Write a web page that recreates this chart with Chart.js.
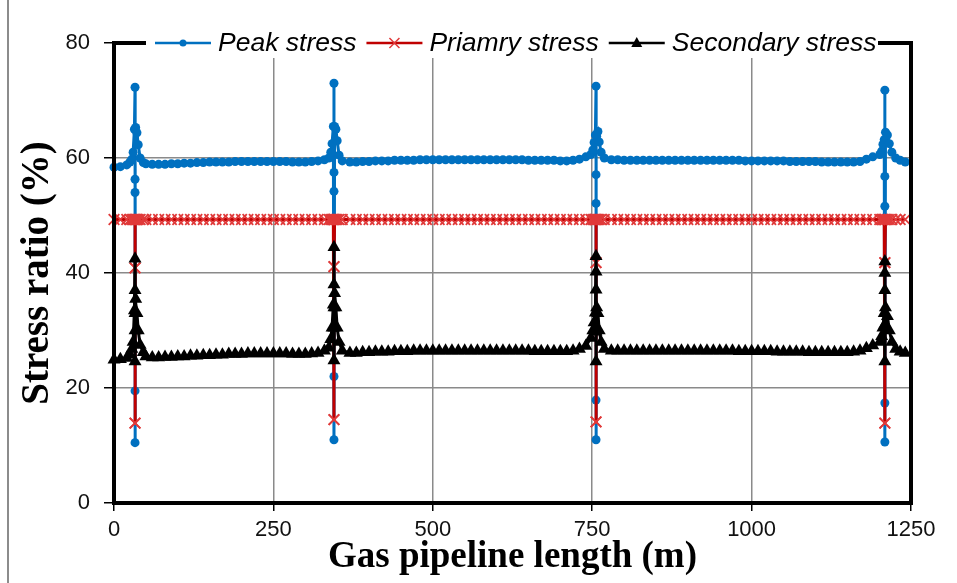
<!DOCTYPE html>
<html>
<head>
<meta charset="utf-8">
<script src="https://cdn.jsdelivr.net/npm/chart.js@4.4.1/dist/chart.umd.min.js"></script>
<style>
  html, body { margin: 0; padding: 0; background: #fff; }
  canvas { display: block; }
</style>
</head>
<body>
<canvas id="stressChart" width="957" height="583"></canvas>
<script>
// pipeline position (m), dense around the four fittings
const lengthM = [
  0, 10, 20,
  25, 28, 30, 32, 33, 33, 33, 33, 33, 34, 36, 38, 41, 46,
  50, 60, 70, 80, 90, 100, 110, 120, 130, 140, 150, 160, 170, 180, 190, 200, 210, 220, 230, 240,
  250, 260, 270, 280, 290, 300, 310, 320, 330,
  337, 340, 342, 344, 345, 345, 345, 345, 345, 346, 348, 350, 353, 358,
  370, 380, 390, 400, 410, 420, 430, 440, 450, 460, 470, 480, 490, 500, 510, 520, 530, 540, 550,
  560, 570, 580, 590, 600, 610, 620, 630, 640, 650, 660, 670, 680, 690, 700, 710, 720, 730, 740,
  748, 751, 753, 755, 756, 756, 756, 756, 756, 757, 759, 761, 764, 769,
  780, 790, 800, 810, 820, 830, 840, 850, 860, 870, 880, 890, 900, 910, 920, 930, 940, 950, 960,
  970, 980, 990, 1000, 1010, 1020, 1030, 1040, 1050, 1060, 1070, 1080, 1090, 1100, 1110, 1120,
  1130, 1140, 1150, 1160, 1170, 1180, 1190,
  1201, 1204, 1206, 1208, 1209, 1209, 1209, 1209, 1209, 1210, 1213, 1216, 1220, 1226,
  1233, 1241
];

const peakStress = [
  58.4, 58.5, 58.8,
  59.3, 59.8, 61.0, 65.0, 72.3, 56.3, 54.0, 19.5, 10.5, 65.3, 64.4, 62.3, 60.0, 59.2,
  59.0, 58.9, 58.9, 58.9, 59.0, 59.0, 59.1, 59.1, 59.2, 59.2,
  59.3, 59.3, 59.3, 59.3, 59.4, 59.4, 59.4, 59.4, 59.4, 59.4,
  59.4, 59.4, 59.4, 59.3, 59.3, 59.3, 59.4, 59.5, 59.7,
  60.0, 61.0, 62.5, 65.5, 73.0, 57.5, 54.2, 22.0, 11.0, 65.5, 65.0, 63.0, 60.5, 59.5,
  59.3, 59.3, 59.4, 59.4, 59.5, 59.5, 59.5, 59.6, 59.6, 59.6,
  59.6, 59.7, 59.7, 59.7, 59.7, 59.7, 59.7, 59.7, 59.7, 59.7,
  59.7, 59.7, 59.7, 59.7, 59.7, 59.7, 59.7, 59.7, 59.6, 59.6,
  59.6, 59.6, 59.6, 59.5, 59.5, 59.6, 59.8, 60.2,
  60.6, 61.4, 62.7, 64.0, 72.5, 57.1, 52.1, 17.9, 11.0, 63.8, 64.6, 62.8, 61.0, 60.0,
  59.7, 59.7, 59.6, 59.6, 59.6, 59.6, 59.6, 59.6, 59.6, 59.6,
  59.6, 59.6, 59.6, 59.6, 59.6, 59.6, 59.6, 59.6, 59.6, 59.6,
  59.6, 59.5, 59.5, 59.5, 59.5, 59.5, 59.5, 59.5, 59.4, 59.4,
  59.4, 59.4, 59.4, 59.3, 59.3, 59.3, 59.3, 59.3, 59.3, 59.4,
  59.8, 60.2,
  60.6, 61.2, 62.4, 63.2, 71.8, 56.8, 51.6, 17.4, 10.6, 64.5, 64.0, 62.5, 61.0, 60.0,
  59.6, 59.3
];

const primaryStress = [
  49.3, 49.3, 49.3,
  49.3, 49.3, 49.3, 49.3, 49.3, 40.9, 13.9, 13.9, 40.9, 49.3, 49.3, 49.3, 49.3, 49.3,
  49.3, 49.3, 49.3, 49.3, 49.3, 49.3, 49.3, 49.3, 49.3, 49.3,
  49.3, 49.3, 49.3, 49.3, 49.3, 49.3, 49.3, 49.3, 49.3, 49.3,
  49.3, 49.3, 49.3, 49.3, 49.3, 49.3, 49.3, 49.3, 49.3,
  49.3, 49.3, 49.3, 49.3, 49.3, 41.1, 14.5, 14.5, 41.1, 49.3, 49.3, 49.3, 49.3, 49.3,
  49.3, 49.3, 49.3, 49.3, 49.3, 49.3, 49.3, 49.3, 49.3, 49.3,
  49.3, 49.3, 49.3, 49.3, 49.3, 49.3, 49.3, 49.3, 49.3, 49.3,
  49.3, 49.3, 49.3, 49.3, 49.3, 49.3, 49.3, 49.3, 49.3, 49.3,
  49.3, 49.3, 49.3, 49.3, 49.3, 49.3, 49.3, 49.3,
  49.3, 49.3, 49.3, 49.3, 49.3, 41.8, 14.1, 14.1, 41.8, 49.3, 49.3, 49.3, 49.3, 49.3,
  49.3, 49.3, 49.3, 49.3, 49.3, 49.3, 49.3, 49.3, 49.3, 49.3,
  49.3, 49.3, 49.3, 49.3, 49.3, 49.3, 49.3, 49.3, 49.3, 49.3,
  49.3, 49.3, 49.3, 49.3, 49.3, 49.3, 49.3, 49.3, 49.3, 49.3,
  49.3, 49.3, 49.3, 49.3, 49.3, 49.3, 49.3, 49.3, 49.3, 49.3,
  49.3, 49.3,
  49.3, 49.3, 49.3, 49.3, 49.3, 41.8, 13.9, 13.9, 41.8, 49.3, 49.3, 49.3, 49.3, 49.3,
  49.3, 49.3
];

const secondaryStress = [
  24.9, 25.0, 25.2,
  25.8, 26.8, 28.0, 33.5, 42.5, 37.0, 33.0, 30.0, 24.6, 35.5, 33.0, 30.0, 27.5, 26.2,
  25.5, 25.3, 25.3, 25.4, 25.4, 25.5, 25.5, 25.6, 25.6, 25.7,
  25.7, 25.8, 25.8, 25.9, 25.9, 25.9, 26.0, 26.0, 26.0, 26.0,
  26.0, 26.0, 26.0, 25.9, 25.9, 25.9, 26.0, 26.1, 26.5,
  27.0, 28.5, 30.5, 34.5, 44.5, 38.0, 34.0, 30.5, 24.8, 36.5, 34.0, 30.5, 28.0, 26.5,
  26.1, 26.1, 26.2, 26.2, 26.3, 26.3, 26.3, 26.4, 26.4, 26.4,
  26.5, 26.5, 26.5, 26.5, 26.5, 26.5, 26.5, 26.5, 26.5, 26.5,
  26.5, 26.5, 26.5, 26.5, 26.5, 26.5, 26.5, 26.5, 26.5, 26.4,
  26.4, 26.4, 26.4, 26.4, 26.4, 26.5, 26.8, 27.3,
  28.7, 30.0, 31.4, 33.1, 42.9, 40.2, 37.1, 29.8, 24.6, 34.0, 33.0, 30.0, 28.0, 26.8,
  26.5, 26.5, 26.5, 26.5, 26.5, 26.5, 26.5, 26.5, 26.5, 26.5,
  26.5, 26.5, 26.5, 26.5, 26.5, 26.5, 26.5, 26.5, 26.5, 26.5,
  26.4, 26.4, 26.4, 26.4, 26.4, 26.4, 26.3, 26.3, 26.3, 26.3,
  26.3, 26.2, 26.2, 26.2, 26.2, 26.2, 26.2, 26.2, 26.3, 26.5,
  26.9, 27.4,
  28.0, 29.0, 30.5, 33.0, 42.0, 40.0, 37.0, 31.0, 24.6, 34.0, 32.5, 30.0, 28.0, 26.8,
  26.3, 26.1
];

const seriesNames = ["Peak stress", "Priamry stress", "Secondary stress"];
const yTicks = [0, 20, 40, 60, 80];
const xTicks = [0, 250, 500, 750, 1000, 1250];

function to_points(values) {
    const pts = [];
    for (let i = 0; i < lengthM.length && i < values.length; i++) {
        pts.push({x: lengthM[i], y: values[i]});
    }
    return pts;
}

// little marker drawer for the legend
function draw_marker(ctx, style, x, y, color) {
    ctx.save();
    ctx.fillStyle = color;
    ctx.strokeStyle = color;
    if (style === "circle") {
        ctx.beginPath();
        ctx.arc(x, y, 3.5, 0, Math.PI * 2);
        ctx.fill();
    } else if (style === "cross") {
        ctx.lineWidth = 1.5;
        ctx.beginPath();
        ctx.moveTo(x - 5, y - 5); ctx.lineTo(x + 5, y + 5);
        ctx.moveTo(x + 5, y - 5); ctx.lineTo(x - 5, y + 5);
        ctx.stroke();
    } else {
        ctx.beginPath();
        ctx.moveTo(x, y - 6);
        ctx.lineTo(x + 5.5, y + 4);
        ctx.lineTo(x - 5.5, y + 4);
        ctx.closePath();
        ctx.fill();
    }
    ctx.restore();
}

const frameAndLegend = {
    id: "frameAndLegend",
    beforeDraw(chart) {
        const ctx = chart.ctx;
        ctx.save();
        ctx.fillStyle = "#fff";
        ctx.fillRect(0, 0, chart.width, chart.height);
        ctx.strokeStyle = "#8c8c8c";
        ctx.lineWidth = 2;
        ctx.beginPath();
        ctx.moveTo(8, 0);
        ctx.lineTo(8, chart.height);
        ctx.stroke();
        ctx.restore();
    },
    afterDraw(chart) {
        const ctx = chart.ctx;
        const a = chart.chartArea;
        ctx.save();
        // plot box
        ctx.strokeStyle = "#000";
        ctx.lineWidth = 4;
        ctx.strokeRect(a.left, a.top, a.right - a.left, a.bottom - a.top);

        // legend sits on the top edge
        const legY = a.top;
        ctx.fillStyle = "#fff";
        ctx.fillRect(146, legY - 15, 732, 30);

        const styles = ["circle", "cross", "triangle"];
        const colors = ["#0070C0", "#C00000", "#000000"];
        const markColors = ["#0070C0", "#E03a3a", "#000000"];
        ctx.font = "italic 26.5px 'Liberation Sans', Arial, sans-serif";
        ctx.textBaseline = "middle";
        let x = 155;
        for (let i = 0; i < seriesNames.length; i++) {
            ctx.strokeStyle = colors[i];
            ctx.lineWidth = 2.5;
            ctx.beginPath();
            ctx.moveTo(x, legY);
            ctx.lineTo(x + 56, legY);
            ctx.stroke();
            draw_marker(ctx, styles[i], x + 28, legY, markColors[i]);
            ctx.fillStyle = "#000";
            ctx.fillText(seriesNames[i], x + 63, legY + 1);
            x += 63 + ctx.measureText(seriesNames[i]).width + 10;
        }
        ctx.restore();
    }
};

const ctx = document.getElementById("stressChart").getContext("2d");
new Chart(ctx, {
    type: "line",
    data: {
        datasets: [
            {
                label: seriesNames[0],
                data: to_points(peakStress),
                borderColor: "#0070C0",
                backgroundColor: "#0070C0",
                borderWidth: 3,
                pointStyle: "circle",
                pointRadius: 4.5,
                pointBorderWidth: 0,
                tension: 0,
                clip: false,
                order: 2
            },
            {
                label: seriesNames[1],
                data: to_points(primaryStress),
                borderColor: "#C00000",
                backgroundColor: "#C00000",
                pointBorderColor: "#E03a3a",
                borderWidth: 3,
                pointStyle: "crossRot",
                pointRadius: 7.5,
                pointBorderWidth: 1.8,
                tension: 0,
                clip: false,
                order: 1
            },
            {
                label: seriesNames[2],
                data: to_points(secondaryStress),
                borderColor: "#000000",
                backgroundColor: "#000000",
                borderWidth: 3,
                pointStyle: "triangle",
                pointRadius: 7.5,
                pointBorderWidth: 0,
                tension: 0,
                clip: false,
                order: 0
            }
        ]
    },
    options: {
        responsive: false,
        animation: false,
        layout: {
            padding: {left: 0, top: 43, right: 46, bottom: 0}
        },
        plugins: {
            legend: {display: false},
            tooltip: {enabled: false}
        },
        scales: {
            x: {
                type: "linear",
                min: xTicks[0],
                max: xTicks[xTicks.length - 1],
                afterBuildTicks: scale => {
                    scale.ticks = xTicks.map(v => ({value: v}));
                },
                afterFit: scale => { scale.height = 80; },
                border: {display: false},
                grid: {
                    color: "#8a8a8a",
                    lineWidth: 1.5,
                    tickLength: 8,
                    tickColor: "#000",
                    tickWidth: 1.5
                },
                ticks: {
                    padding: 6,
                    maxRotation: 0,
                    color: "#111",
                    callback: v => String(v),
                    font: {family: "'Liberation Sans', Arial, sans-serif", size: 22}
                },
                title: {
                    display: true,
                    text: "Gas pipeline length (m)",
                    color: "#000",
                    padding: {top: 0, bottom: 3},
                    font: {family: "'Liberation Serif', 'Times New Roman', serif", size: 37, weight: "bold"}
                }
            },
            y: {
                min: yTicks[0],
                max: yTicks[yTicks.length - 1],
                afterBuildTicks: scale => {
                    scale.ticks = yTicks.map(v => ({value: v}));
                },
                afterFit: scale => { scale.width = 114; },
                border: {display: false},
                grid: {
                    color: "#8a8a8a",
                    lineWidth: 1.5,
                    tickLength: 10,
                    tickColor: "#000",
                    tickWidth: 1.5
                },
                ticks: {
                    padding: 14,
                    color: "#111",
                    callback: v => String(v),
                    font: {family: "'Liberation Sans', Arial, sans-serif", size: 22}
                },
                title: {
                    display: true,
                    text: "Stress ratio (%)",
                    color: "#000",
                    padding: {top: 15, bottom: 0},
                    font: {family: "'Liberation Serif', 'Times New Roman', serif", size: 39, weight: "bold"}
                }
            }
        }
    },
    plugins: [frameAndLegend]
});
</script>
</body>
</html>
